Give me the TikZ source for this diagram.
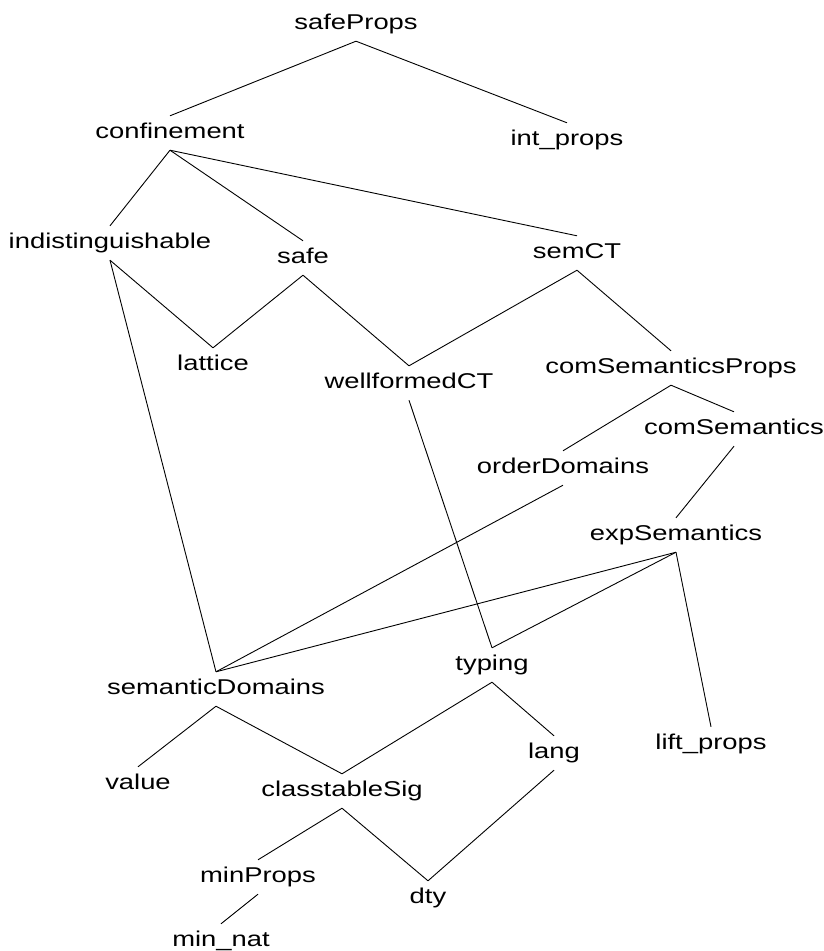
\documentclass[tikz,border=0pt]{standalone}
\usepackage{fontspec}
\setmainfont[FakeStretch=1.28]{Liberation Sans}
\tikzset{
    thy/.style={anchor=base, inner xsep=0pt, inner ysep=6pt, text height=16pt, text depth=6pt, font=\fontsize{21.4}{24}\selectfont},
    dep/.style={line width=0.9pt, black}
}
\begin{document}
\begin{tikzpicture}[x=1pt, y=-1pt]
        \useasboundingbox (0, 0) rectangle (823, 951);

        \node [thy] (safeProps) at (356, 29) {safeProps};
        \node [thy] (confinement) at (170, 138) {confinement};
        \node [thy] (intprops) at (567, 145) {int\_props};
        \node [thy] (indist) at (110, 248) {indistinguishable};
        \node [thy] (safe) at (303, 263) {safe};
        \node [thy] (semCT) at (577, 258) {semCT};
        \node [thy] (lattice) at (213, 370) {lattice};
        \node [thy] (wellformedCT) at (409, 388) {wellformedCT};
        \node [thy] (comSemProps) at (671, 373) {comSemanticsProps};
        \node [thy] (comSem) at (734, 434) {comSemantics};
        \node [thy] (orderDomains) at (563, 473) {orderDomains};
        \node [thy] (expSem) at (676, 540) {expSemantics};
        \node [thy] (semDomains) at (216, 694) {semanticDomains};
        \node [thy] (typing) at (492, 670) {typing};
        \node [thy] (liftprops) at (711, 749) {lift\_props};
        \node [thy] (lang) at (554, 758) {lang};
        \node [thy] (value) at (138, 789) {value};
        \node [thy] (classtableSig) at (342, 796) {classtableSig};
        \node [thy] (minProps) at (258, 882) {minProps};
        \node [thy] (dty) at (428, 903) {dty};
        \node [thy] (minnat) at (221, 946) {min\_nat};

        \draw [dep] (safeProps.south) -- (confinement.north);
        \draw [dep] (safeProps.south) -- (intprops.north);
        \draw [dep] (confinement.south) -- (indist.north);
        \draw [dep] (confinement.south) -- (safe.north);
        \draw [dep] (confinement.south) -- (semCT.north);
        \draw [dep] (indist.south) -- (lattice.north);
        \draw [dep] (indist.south) -- (semDomains.north);
        \draw [dep] (safe.south) -- (lattice.north);
        \draw [dep] (safe.south) -- (wellformedCT.north);
        \draw [dep] (semCT.south) -- (wellformedCT.north);
        \draw [dep] (semCT.south) -- (comSemProps.north);
        \draw [dep] (comSemProps.south) -- (orderDomains.north);
        \draw [dep] (comSemProps.south) -- (comSem.north);
        \draw [dep] (comSem.south) -- (expSem.north);
        \draw [dep] (wellformedCT.south) -- (typing.north);
        \draw [dep] (orderDomains.south) -- (semDomains.north);
        \draw [dep] (expSem.south) -- (semDomains.north);
        \draw [dep] (expSem.south) -- (typing.north);
        \draw [dep] (expSem.south) -- (liftprops.north);
        \draw [dep] (semDomains.south) -- (value.north);
        \draw [dep] (semDomains.south) -- (classtableSig.north);
        \draw [dep] (typing.south) -- (classtableSig.north);
        \draw [dep] (typing.south) -- (lang.north);
        \draw [dep] (classtableSig.south) -- (minProps.north);
        \draw [dep] (classtableSig.south) -- (dty.north);
        \draw [dep] (lang.south) -- (dty.north);
        \draw [dep] (minProps.south) -- (minnat.north);
    \end{tikzpicture}
\end{document}
